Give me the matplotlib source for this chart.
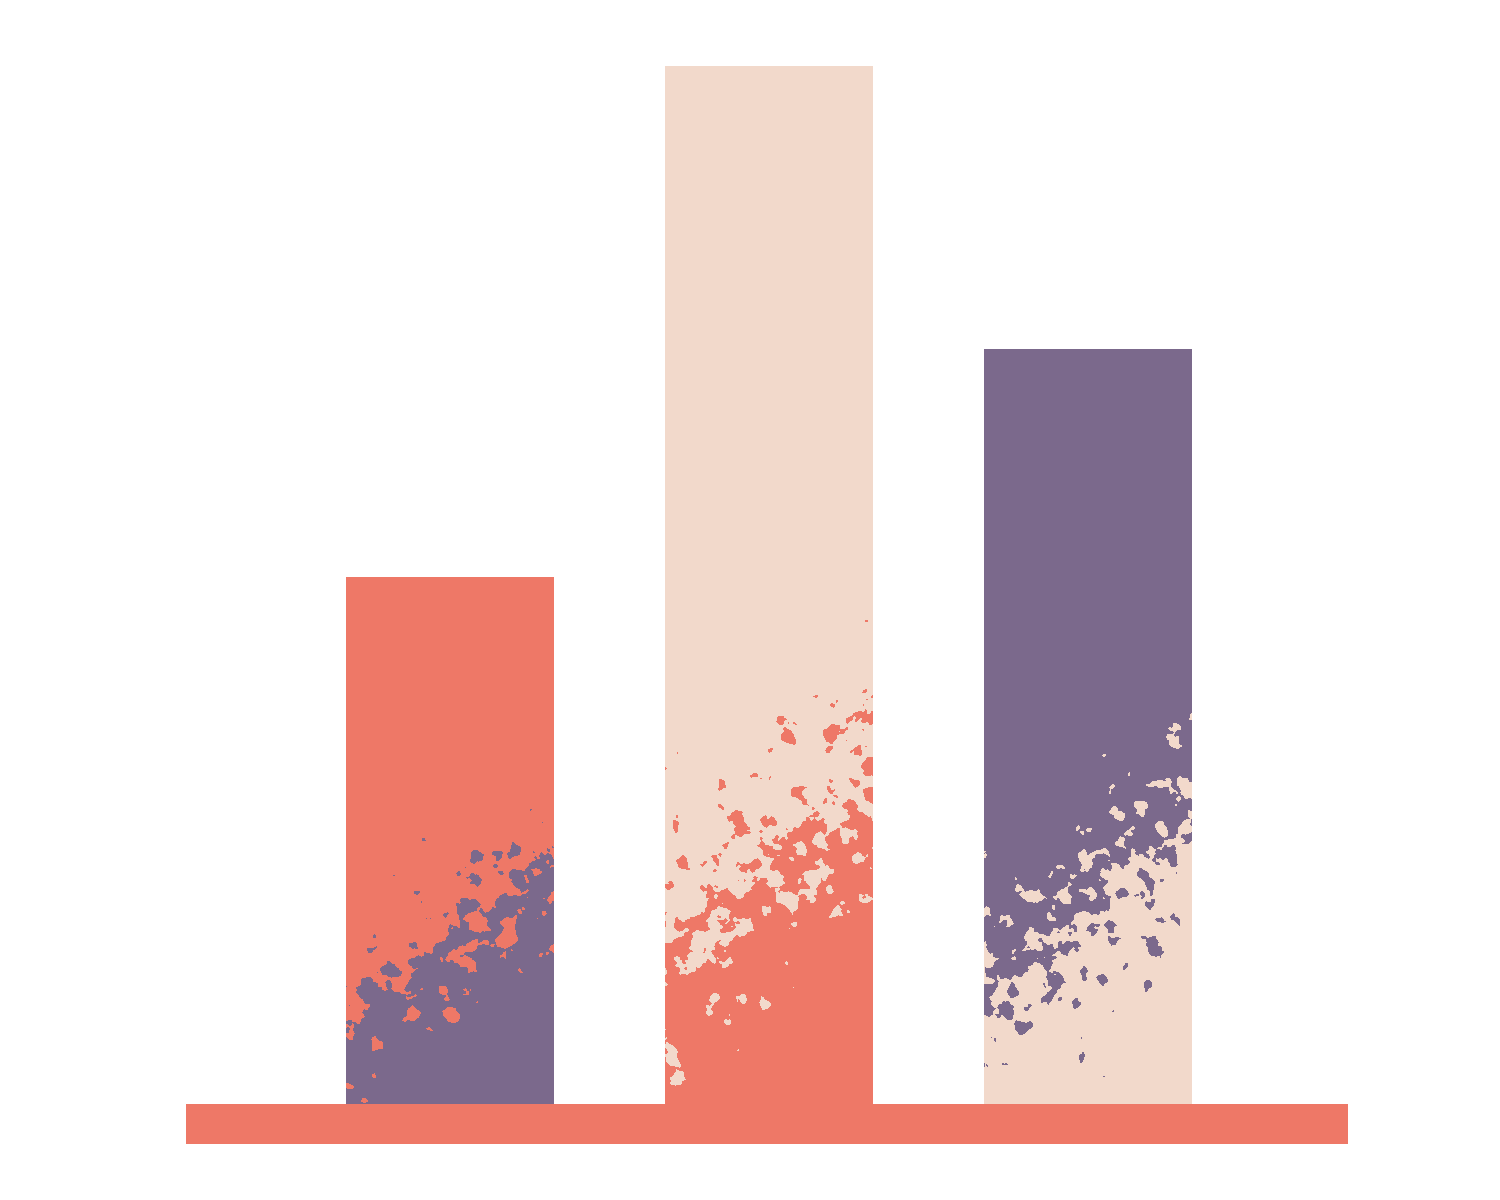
import numpy as np
import matplotlib
matplotlib.use("Agg")
import matplotlib.pyplot as plt
from matplotlib.patches import Rectangle

# ---- data ----
categories = ["A", "B", "C"]
values = [0.508, 1.0, 0.727]
top_colors = ["#EE7867", "#F2D9CB", "#7B698C"]
bottom_colors = ["#7B698C", "#EE7867", "#F2D9CB"]
base_color = "#EE7867"

# ---- layout (pixel-based) ----
W, H = 1500, 1200
px_per_unit_y = 1038.0
px_per_unit_x = 319.0
baseline_px = 96.0
first_center_px = 450.0
bar_width = 208 / px_per_unit_x

fig = plt.figure(figsize=(15, 12), dpi=100)
ax = fig.add_axes([0, 0, 1, 1])
ax.axis("off")

rng = np.random.default_rng(7)


def blurred_noise(h, w, sigma):
    n = rng.standard_normal((h, w))
    fy = np.fft.fftfreq(h)[:, None]
    fx = np.fft.fftfreq(w)[None, :]
    g = np.exp(-2 * (np.pi ** 2) * sigma ** 2 * (fx ** 2 + fy ** 2))
    out = np.real(np.fft.ifft2(np.fft.fft2(n) * g))
    return out / out.std()


def hex2rgb(c):
    c = c.lstrip("#")
    return np.array([int(c[i:i + 2], 16) / 255 for i in (0, 2, 4)])


# band definitions (center height at left/right edge in px, half-width px)
bands = [(95, 230, 70), (150, 320, 105), (95, 300, 90)]

x = np.arange(len(values))
bars = ax.bar(x, values, width=bar_width, color=top_colors, zorder=2, linewidth=0)

for i, (b, v) in enumerate(zip(bars, values)):
    hp = int(round(v * px_per_unit_y))
    wp = int(round(bar_width * px_per_unit_x))
    yy, xx = np.mgrid[0:hp, 0:wp]
    h0, h1, bw = bands[i]
    center = h0 + (h1 - h0) * xx / wp
    field = (center - yy) / bw + 0.6 * blurred_noise(hp, wp, 4.5) + 0.2 * blurred_noise(hp, wp, 1.5)
    mask = field > 0
    img = np.where(mask[..., None], hex2rgb(bottom_colors[i]), hex2rgb(top_colors[i]))
    im = ax.imshow(img, origin="lower", interpolation="nearest",
                   extent=[x[i] - bar_width / 2, x[i] + bar_width / 2, 0, v],
                   zorder=3, aspect="auto")
    im.set_clip_path(b)

# base strip
base_left = (186 - first_center_px) / px_per_unit_x
base_right = (1348 - first_center_px) / px_per_unit_x
ax.add_patch(Rectangle((base_left, -40 / px_per_unit_y), base_right - base_left, 40 / px_per_unit_y,
                       color=base_color, zorder=4, linewidth=0))

ax.set_xlim(-first_center_px / px_per_unit_x, (W - first_center_px) / px_per_unit_x)
ax.set_ylim(-baseline_px / px_per_unit_y, (H - baseline_px) / px_per_unit_y)

fig.savefig("out.png", dpi=100, facecolor="white")
